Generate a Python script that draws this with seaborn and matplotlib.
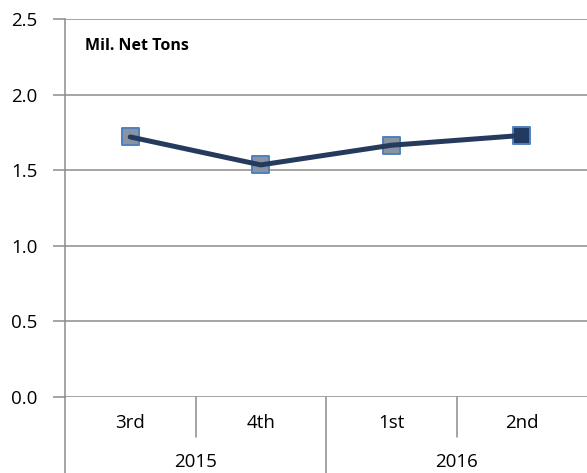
import matplotlib
matplotlib.use("Agg")
import matplotlib.pyplot as plt
import matplotlib.transforms as mtransforms
import seaborn as sns
import pandas as pd

quarters = ["3rd", "4th", "1st", "2nd"]
years = ["2015", "2016"]
values = [1.72, 1.535, 1.665, 1.73]
yticks = [0.0, 0.5, 1.0, 1.5, 2.0, 2.5]

sns.set_style("white")
plt.rcParams['font.family'] = ['Open Sans', 'DejaVu Sans']
plt.rcParams['text.color'] = 'black'
plt.rcParams['ytick.color'] = 'black'

df = pd.DataFrame({"pos": range(len(quarters)), "q": quarters, "v": values})

fig = plt.figure(figsize=(5.87, 4.73), dpi=100)
ax = fig.add_axes([65/587, 1-397/473, 1-65/587, (397-19)/473])

grid_c = "#8c8c8c"
for t in yticks:
    ax.axhline(t, color=grid_c, lw=1.1, zorder=0)

fills = ["#8893a4", "#8893a4", "#8893a4", "#1f3a63"]
sns.scatterplot(data=df, x="pos", y="v", hue="q", palette=dict(zip(quarters, fills)),
                marker="s", s=150, edgecolor="#4f81bd", linewidth=1.4, legend=False,
                ax=ax, zorder=4)
sns.lineplot(data=df, x="pos", y="v", color="#253a5c", lw=3.6, ax=ax, zorder=5)

ax.set_xlim(-0.5, len(quarters) - 0.5)
ax.set_ylim(0, 2.5)
ax.set_yticks(yticks)
ax.set_yticklabels([f"{t:.1f}" for t in yticks], fontsize=13.5)
ax.tick_params(axis="y", length=9, width=1.1, color=grid_c, labelcolor="black", pad=11, left=True)
ax.set_xticks([])
ax.set_xlabel("")
ax.set_ylabel("")
for s in ["top", "right", "bottom"]:
    ax.spines[s].set_visible(False)
ax.spines["left"].set_color(grid_c)
ax.spines["left"].set_linewidth(1.1)

trans = mtransforms.blended_transform_factory(ax.transData, ax.transAxes)
ax.plot([-0.5, -0.5], [0, -0.21], color=grid_c, lw=1.1, transform=trans, clip_on=False)
ax.plot([0.5, 0.5], [0, -0.106], color=grid_c, lw=1.1, transform=trans, clip_on=False)
ax.plot([2.5, 2.5], [0, -0.106], color=grid_c, lw=1.1, transform=trans, clip_on=False)
ax.plot([1.5, 1.5], [0, -0.21], color=grid_c, lw=1.1, transform=trans, clip_on=False)

for i, q in enumerate(quarters):
    ax.text(i, -0.069, q, transform=trans, ha="center", va="center", fontsize=13.5)
for j, y in enumerate(years):
    ax.text(0.5 + 2 * j, -0.172, y, transform=trans, ha="center", va="center", fontsize=13.5)

ax.text((85-65)/522, 1 - (46-19)/378, "Mil. Net Tons", transform=ax.transAxes,
        ha="left", va="center", fontsize=11.5, fontweight="bold")

fig.savefig("out.png", dpi=100)
